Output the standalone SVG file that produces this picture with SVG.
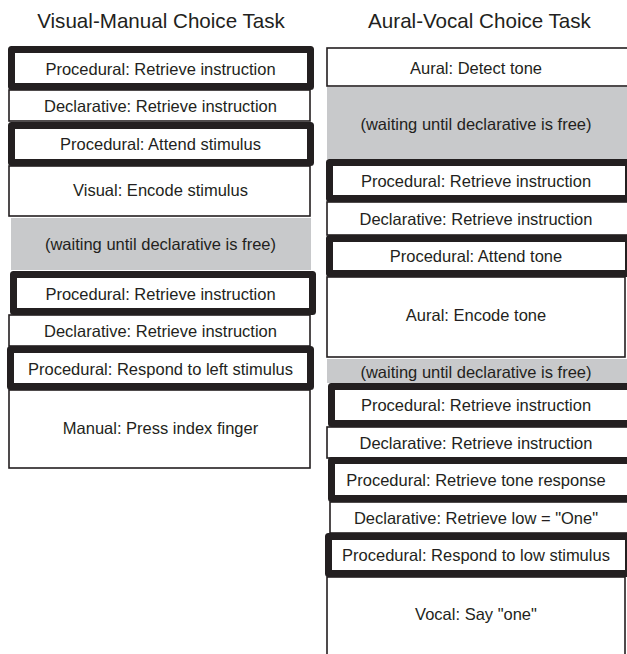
<svg xmlns="http://www.w3.org/2000/svg" width="627" height="654" viewBox="0 0 627 654">
  <style>
    .thin { fill: #ffffff; stroke: #231f20; stroke-width: 1.6; }
    .thick { fill: #ffffff; stroke: #231f20; stroke-width: 7; stroke-linejoin: round; }
    .wait { fill: #c8c9cb; }
    .lbl { font-family: "Liberation Sans", Arial, Helvetica, sans-serif; font-size: 16.5px; fill: #231f20; text-anchor: middle; }
    .title { font-family: "Liberation Sans", Arial, Helvetica, sans-serif; font-size: 20.6px; fill: #231f20; text-anchor: middle; }
  </style>
  <rect width="627" height="654" fill="#ffffff"/>

  <!-- Column headings -->
  <text class="title" x="161" y="28">Visual-Manual Choice Task</text>
  <text class="title" x="479.5" y="28">Aural-Vocal Choice Task</text>

  <!-- Visual-manual sequence: thin module steps -->
  <g id="vm-decl-1">
    <rect class="thin" x="9" y="90" width="301" height="31"/>
    <text class="lbl" x="160.5" y="111.5">Declarative: Retrieve instruction</text>
  </g>
  <g id="vm-visual-encode">
    <rect class="thin" x="9" y="166" width="301" height="50"/>
    <text class="lbl" x="160.5" y="196">Visual: Encode stimulus</text>
  </g>
  <g id="vm-wait">
    <rect class="wait" x="11" y="218" width="300" height="52"/>
    <text class="lbl" x="160.5" y="250">(waiting until declarative is free)</text>
  </g>
  <g id="vm-decl-2">
    <rect class="thin" x="9" y="315" width="301" height="31"/>
    <text class="lbl" x="160.5" y="337">Declarative: Retrieve instruction</text>
  </g>
  <g id="vm-manual-press">
    <rect class="thin" x="9" y="390" width="301" height="78"/>
    <text class="lbl" x="160.5" y="434">Manual: Press index finger</text>
  </g>

  <!-- Visual-manual sequence: procedural steps (heavy frames) -->
  <g id="vm-proc-retrieve-1">
    <rect class="thick" x="11.5" y="49.5" width="299" height="37"/>
    <text class="lbl" x="160.5" y="74.5">Procedural: Retrieve instruction</text>
  </g>
  <g id="vm-proc-attend">
    <rect class="thick" x="11.5" y="125.5" width="299" height="37"/>
    <text class="lbl" x="160.5" y="150">Procedural: Attend stimulus</text>
  </g>
  <g id="vm-proc-retrieve-2">
    <rect class="thick" x="13.5" y="274.5" width="299" height="37"/>
    <text class="lbl" x="160.5" y="299.5">Procedural: Retrieve instruction</text>
  </g>
  <g id="vm-proc-respond">
    <rect class="thick" x="10.5" y="349.5" width="300" height="37"/>
    <text class="lbl" x="160.5" y="374.5">Procedural: Respond to left stimulus</text>
  </g>

  <!-- Aural-vocal sequence: thin module steps -->
  <g id="av-aural-detect">
    <rect class="thin" x="327" y="48" width="305" height="38"/>
    <text class="lbl" x="476" y="73.5">Aural: Detect tone</text>
  </g>
  <g id="av-wait-1">
    <rect class="wait" x="327" y="87" width="300" height="72"/>
    <text class="lbl" x="476" y="129.5">(waiting until declarative is free)</text>
  </g>
  <g id="av-decl-1">
    <rect class="thin" x="327" y="202" width="305" height="33"/>
    <text class="lbl" x="476" y="224.5">Declarative: Retrieve instruction</text>
  </g>
  <g id="av-aural-encode">
    <rect class="thin" x="327" y="277" width="298" height="80"/>
    <text class="lbl" x="476" y="321">Aural: Encode tone</text>
  </g>
  <g id="av-wait-2">
    <rect class="wait" x="327" y="359" width="300" height="24"/>
    <text class="lbl" x="476" y="378">(waiting until declarative is free)</text>
  </g>
  <g id="av-decl-2">
    <rect class="thin" x="327" y="427" width="305" height="31"/>
    <text class="lbl" x="476" y="448.5">Declarative: Retrieve instruction</text>
  </g>
  <g id="av-decl-low">
    <rect class="thin" x="330" y="502" width="302" height="31"/>
    <text class="lbl" x="476" y="523.5">Declarative: Retrieve low = "One"</text>
  </g>
  <g id="av-vocal-say">
    <rect class="thin" x="327" y="577" width="298" height="84"/>
    <text class="lbl" x="476" y="620">Vocal: Say "one"</text>
  </g>

  <!-- Aural-vocal sequence: procedural steps (heavy frames) -->
  <g id="av-proc-retrieve-1">
    <rect class="thick" x="329.5" y="162.5" width="299" height="36"/>
    <text class="lbl" x="476" y="186.5">Procedural: Retrieve instruction</text>
  </g>
  <g id="av-proc-attend">
    <rect class="thick" x="329.5" y="238.5" width="299" height="35"/>
    <text class="lbl" x="476" y="262">Procedural: Attend tone</text>
  </g>
  <g id="av-proc-retrieve-2">
    <rect class="thick" x="331.5" y="386.5" width="299" height="37"/>
    <text class="lbl" x="476" y="411">Procedural: Retrieve instruction</text>
  </g>
  <g id="av-proc-tone-response">
    <rect class="thick" x="331.5" y="460.5" width="299" height="38"/>
    <text class="lbl" x="476" y="486">Procedural: Retrieve tone response</text>
  </g>
  <g id="av-proc-respond">
    <rect class="thick" x="328.5" y="536.5" width="300" height="37"/>
    <text class="lbl" x="476" y="561">Procedural: Respond to low stimulus</text>
  </g>

  <!-- No connectors: steps are stacked in time order -->
  <g id="connectors"/>
</svg>
